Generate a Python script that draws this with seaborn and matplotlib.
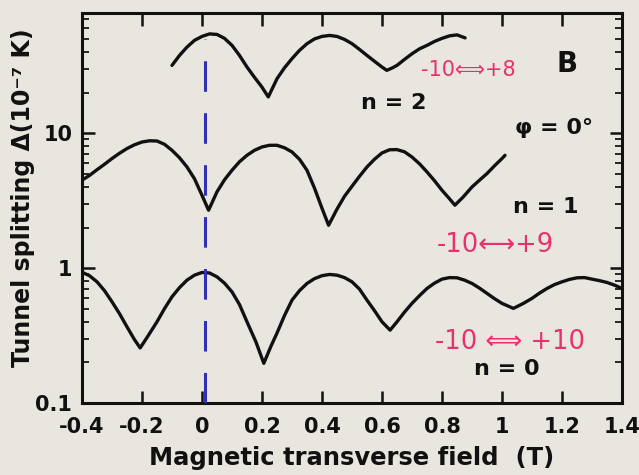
import numpy as np
import pandas as pd
import matplotlib
matplotlib.use("Agg")
import matplotlib.pyplot as plt
import seaborn as sns

# Tunnel splitting vs. transverse field, three resonances (phi = 0 deg)
field_n0 = [-0.400, -0.375, -0.350, -0.325, -0.300, -0.275, -0.250, -0.225, -0.206,
            -0.180, -0.150, -0.125, -0.100, -0.075, -0.050, -0.025, 0.000, 0.025,
            0.050, 0.075, 0.100, 0.125, 0.150, 0.180, 0.206, 0.230, 0.250, 0.275,
            0.300, 0.325, 0.350, 0.375, 0.400, 0.425, 0.450, 0.475, 0.500, 0.525,
            0.550, 0.575, 0.600, 0.627, 0.650, 0.675, 0.700, 0.725, 0.750, 0.775,
            0.800, 0.825, 0.850, 0.875, 0.900, 0.925, 0.950, 0.975, 1.000, 1.038,
            1.070, 1.100, 1.125, 1.150, 1.175, 1.200, 1.225, 1.250, 1.275, 1.300,
            1.325, 1.350, 1.375, 1.400]
split_n0 = [0.933, 0.879, 0.792, 0.681, 0.563, 0.460, 0.367, 0.295, 0.256,
            0.314, 0.400, 0.501, 0.613, 0.717, 0.815, 0.887, 0.929, 0.921,
            0.862, 0.774, 0.667, 0.537, 0.400, 0.283, 0.197, 0.264, 0.330, 0.445,
            0.579, 0.681, 0.770, 0.836, 0.879, 0.898, 0.887, 0.851, 0.792, 0.699,
            0.579, 0.484, 0.400, 0.347, 0.400, 0.472, 0.548, 0.625, 0.707, 0.774,
            0.829, 0.851, 0.848, 0.815, 0.770, 0.711, 0.650, 0.594, 0.548, 0.503,
            0.546, 0.597, 0.653, 0.707, 0.755, 0.792, 0.825, 0.848, 0.851, 0.829,
            0.808, 0.783, 0.748, 0.707]

field_n1 = [-0.400, -0.375, -0.350, -0.325, -0.300, -0.275, -0.250, -0.225, -0.200,
            -0.175, -0.150, -0.125, -0.100, -0.075, -0.050, -0.025, 0.000, 0.022,
            0.050, 0.075, 0.100, 0.125, 0.150, 0.175, 0.200, 0.225, 0.250, 0.275,
            0.300, 0.325, 0.350, 0.375, 0.400, 0.422, 0.450, 0.475, 0.500, 0.525,
            0.550, 0.575, 0.600, 0.625, 0.650, 0.675, 0.700, 0.725, 0.750, 0.775,
            0.800, 0.825, 0.843, 0.870, 0.900, 0.925, 0.950, 0.975, 1.000, 1.010]
split_n1 = [4.49, 4.87, 5.37, 5.89, 6.50, 7.11, 7.71, 8.22, 8.62,
            8.80, 8.77, 8.29, 7.48, 6.59, 5.63, 4.60, 3.47, 2.69,
            3.68, 4.52, 5.32, 6.15, 6.87, 7.48, 7.92, 8.15, 8.15, 7.81,
            7.27, 6.42, 5.32, 3.92, 2.78, 2.08, 2.74, 3.41, 4.05, 4.80,
            5.63, 6.42, 7.15, 7.55, 7.57, 7.29, 6.67, 5.94, 5.17, 4.45,
            3.78, 3.27, 2.93, 3.36, 4.00, 4.49, 5.03, 5.74, 6.50, 6.87]

field_n2 = [-0.100, -0.075, -0.050, -0.025, 0.000, 0.025, 0.050, 0.075, 0.100,
            0.125, 0.150, 0.175, 0.200, 0.221, 0.250, 0.275, 0.300, 0.325,
            0.350, 0.375, 0.400, 0.425, 0.450, 0.475, 0.500, 0.525, 0.550,
            0.575, 0.600, 0.616, 0.635, 0.650, 0.675, 0.700, 0.725, 0.750,
            0.775, 0.800, 0.825, 0.850, 0.877]
split_n2 = [31.9, 37.8, 43.6, 48.9, 52.3, 54.6, 54.1, 50.6, 44.9,
            37.8, 31.0, 26.0, 22.0, 18.6, 25.4, 30.6, 35.8, 41.2,
            46.2, 50.1, 52.3, 53.2, 52.3, 49.7, 46.2, 41.9, 37.8,
            34.2, 31.0, 29.3, 30.6, 31.9, 35.3, 38.9, 42.3, 44.9,
            48.0, 50.6, 52.8, 53.7, 51.0]

x_ticks = [-0.4, -0.2, 0.0, 0.2, 0.4, 0.6, 0.8, 1.0, 1.2, 1.4]
x_tick_labels = ["-0.4", "-0.2", "0", "0.2", "0.4", "0.6", "0.8", "1", "1.2", "1.4"]
y_ticks = [0.1, 1, 10]
y_tick_labels = ["0.1", "1", "10"]

marker_field = 0.01
marker_span = [0.1, 50]

curve_labels = ["n = 0", "n = 1", "n = 2"]
curve_label_x = [1.017, 1.147, 0.64]
curve_label_y = [0.179, 2.83, 16.9]

transition_labels = ["-10 \u27FA +10", "-10\u27F7+9", "-10\u27FA+8"]
transition_x = [1.027, 0.977, 0.887]
transition_y = [0.283, 1.48, 29.3]
transition_size = [18.5, 18.5, 15]

frame = pd.concat([
    pd.DataFrame({"field": field_n0, "splitting": split_n0, "n": 0}),
    pd.DataFrame({"field": field_n1, "splitting": split_n1, "n": 1}),
    pd.DataFrame({"field": field_n2, "splitting": split_n2, "n": 2}),
], ignore_index=True)

sns.set_theme(style="ticks")
plt.rcParams["font.family"] = ["DejaVu Sans"]

paper = "#e9e6df"
ink = "#111111"
pink = "#e8306e"

fig = plt.figure(figsize=(6.39, 4.75), dpi=100, facecolor=paper)
ax = fig.add_axes([0.1283, 0.1516, 0.8451, 0.8210], facecolor=paper)

sns.lineplot(data=frame, x="field", y="splitting", hue="n",
             palette={0: ink, 1: ink, 2: ink}, estimator=None, sort=False,
             legend=False, linewidth=2.4, ax=ax)

ax.vlines(marker_field, marker_span[0], marker_span[1], color="#3030b0",
          linewidth=2.2, linestyles=(0, (10, 7)), zorder=3)

ax.set_yscale("log")
ax.set_xlim(-0.4, 1.4)
ax.set_ylim(0.1, 78)
ax.set_xticks(x_ticks)
ax.set_xticklabels(x_tick_labels)
ax.set_yticks(y_ticks)
ax.set_yticklabels(y_tick_labels)
ax.yaxis.set_minor_locator(matplotlib.ticker.LogLocator(base=10, subs=np.arange(2, 10)))
ax.yaxis.set_minor_formatter(matplotlib.ticker.NullFormatter())

ax.tick_params(which="major", direction="in", length=9, width=1.8,
               top=True, right=True, labelsize=15, colors=ink)
ax.tick_params(which="minor", direction="in", length=5, width=1.4,
               right=True, left=True)
ax.tick_params(axis="x", pad=10)
ax.tick_params(axis="y", pad=7)
for lbl in ax.get_xticklabels() + ax.get_yticklabels():
    lbl.set_fontweight("bold")

for side in ax.spines.values():
    side.set_linewidth(2.2)
    side.set_color(ink)

ax.set_xlabel("Magnetic transverse field  (T)", fontsize=17.5,
              fontweight="bold", color=ink)
ax.set_ylabel("Tunnel splitting \u0394(10\u207B\u2077 K)", fontsize=17,
              fontweight="bold", color=ink)
ax.xaxis.set_label_coords(0.5, -0.11)
ax.yaxis.set_label_coords(-0.087, 0.526)

for text, x, y in zip(curve_labels, curve_label_x, curve_label_y):
    ax.text(x, y, text, fontsize=16, fontweight="bold", color=ink,
            ha="center", va="center")
ax.text(1.173, 10.9, "\u03C6 = 0\u00B0", fontsize=16, fontweight="bold",
        color=ink, ha="center", va="center")
ax.text(1.217, 32.4, "B", fontsize=20, fontweight="bold", color=ink,
        ha="center", va="center")

for text, x, y, s in zip(transition_labels, transition_x, transition_y, transition_size):
    ax.text(x, y, text, fontsize=s, color=pink, ha="center", va="center")

fig.savefig("out.png", dpi=100, facecolor=paper)
